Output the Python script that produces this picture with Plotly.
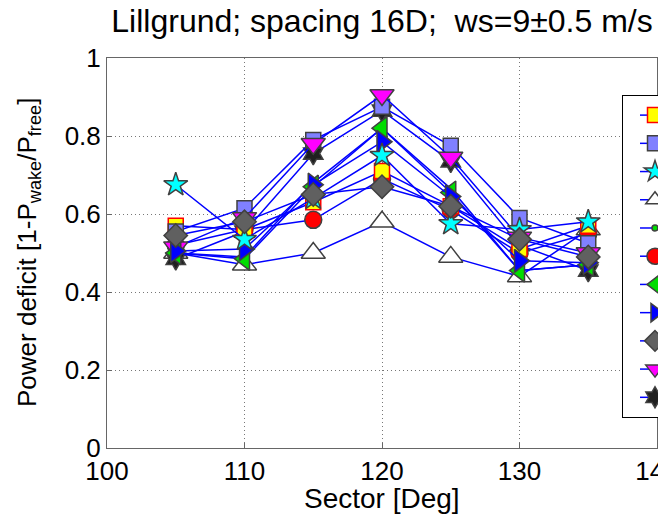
import plotly.graph_objects as go

# ---------------- data ----------------
sectors = [105, 110, 115, 120, 125, 130, 135]
x_tick_vals = [100, 110, 120, 130, 140]
y_tick_vals = [0, 0.2, 0.4, 0.6, 0.8, 1]
y_tick_text = ["0", "0.2", "0.4", "0.6", "0.8", "1"]

white_tri = [0.50, 0.47, 0.50, 0.58, 0.49, 0.44, 0.56]
red_circle = [0.52, 0.56, 0.585, 0.69, 0.61, 0.50, 0.55]
black_hex = [0.485, 0.555, 0.755, 0.865, 0.735, 0.52, 0.455]
yellow_sq = [0.57, 0.56, 0.63, 0.71, 0.62, 0.51, 0.57]
lav_sq = [0.555, 0.615, 0.79, 0.875, 0.775, 0.59, 0.525]
magenta_tri = [0.515, 0.59, 0.78, 0.905, 0.745, 0.54, 0.50]
green_dot = [0.50, 0.49, 0.68, 0.82, 0.665, 0.455, 0.47]
green_tri = [0.50, 0.485, 0.67, 0.82, 0.655, 0.455, 0.47]
blue_tri = [0.505, 0.51, 0.675, 0.785, 0.645, 0.48, 0.475]
cyan_star = [0.675, 0.535, 0.64, 0.75, 0.575, 0.56, 0.58]
gray_dia = [0.545, 0.58, 0.65, 0.67, 0.62, 0.535, 0.49]

series = [
    # name, values, symbol, fill, edge, size, legend rank
    ("Row 4", white_tri, "triangle-up", "#FFFFFF", "#404040", 21, 4),
    ("Row 6", red_circle, "circle", "#FF0000", "#404040", 17, 6),
    ("Row 11", black_hex, "hexagram", "#202020", "#404040", 17, 11),
    ("Row 1", yellow_sq, "square", "#FFFF00", "#FF0000", 15, 1),
    ("Row 2", lav_sq, "square", "#8080FF", "#404040", 15, 2),
    ("Row 10", magenta_tri, "triangle-down", "#FF00FF", "#404040", 21, 10),
    ("Row 5", green_dot, "circle", "#00DD00", "#404040", 6, 5),
    ("Row 7", green_tri, "triangle-left", "#00DD00", "#404040", 20, 7),
    ("Row 8", blue_tri, "triangle-right", "#0000FF", "#404040", 20, 8),
    ("Row 3", cyan_star, "star", "#00FFFF", "#404040", 18, 3),
    ("Row 9", gray_dia, "diamond", "#606060", "#404040", 18, 9),
]

FONT = "Arial, Liberation Sans, sans-serif"

fig = go.Figure()
for name, vals, sym, fill, edge, size, rank in series:
    fig.add_trace(go.Scatter(
        x=sectors, y=vals, mode="lines+markers", name=name,
        legendrank=rank,
        line=dict(color="#0000FF", width=1.5),
        marker=dict(symbol=sym, size=size, color=fill,
                    line=dict(color=edge, width=1.5)),
    ))

axis_common = dict(
    ticks="inside", ticklen=5, tickcolor="#666",
    showline=True, linecolor="#666", linewidth=1, mirror=True,
    showgrid=True, gridcolor="#777", griddash="1px,3px", gridwidth=1,
    zeroline=False, tickfont=dict(size=26, family=FONT),
    ticklabeloverflow="allow",
)

fig.update_layout(
    width=658, height=520,
    margin=dict(l=107, r=1, t=58, b=72, autoexpand=False),
    paper_bgcolor="white", plot_bgcolor="white",
    font=dict(family=FONT, color="black", size=26),
    title=dict(text="Lillgrund; spacing 16D;\u00a0 ws=9\u00b10.5 m/s",
               x=0.5, xref="paper", xanchor="center",
               y=1 - 21 / 520, yref="container", yanchor="middle",
               font=dict(size=32, family=FONT, color="black")),
    showlegend=True,
    legend=dict(x=(622 - 107) / 550, y=(448 - 95) / 390,
                xanchor="left", yanchor="top",
                bgcolor="white", bordercolor="black", borderwidth=1,
                font=dict(size=19.4, family=FONT), indentation=12,
                tracegroupgap=0),
    xaxis=dict(range=[100, 140], tickvals=x_tick_vals, **axis_common),
    yaxis=dict(range=[0, 1], tickvals=y_tick_vals, ticktext=y_tick_text,
               **axis_common),
    annotations=[
        dict(text="Sector [Deg]", x=0.5, y=0, xref="paper", yref="paper",
             xanchor="center", yanchor="middle", yshift=-50, showarrow=False,
             font=dict(size=28, family=FONT)),
        dict(text="Power deficit [1-P<sub>wake</sub>/P<sub>free</sub>]",
             x=0, y=0.5, xref="paper", yref="paper", textangle=-90,
             xanchor="center", yanchor="middle", xshift=-79, showarrow=False,
             font=dict(size=26, family=FONT)),
    ],
)

fig.write_html("out.html")
